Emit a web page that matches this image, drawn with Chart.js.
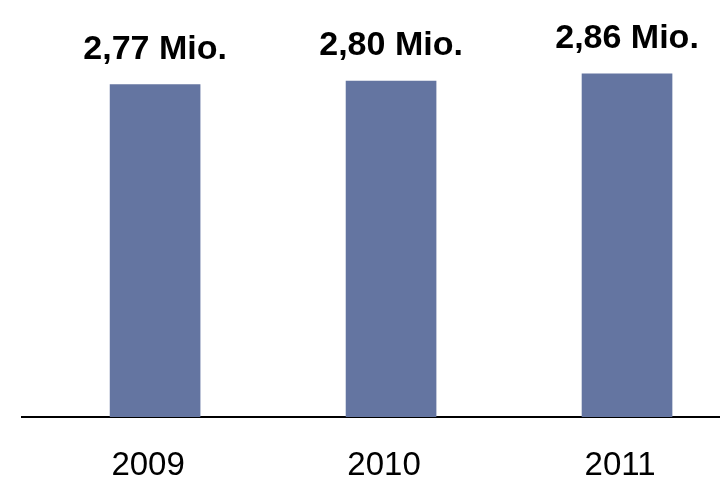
<!DOCTYPE html>
<html>
<head>
<meta charset="utf-8">
<script src="https://cdn.jsdelivr.net/npm/chart.js@4"></script>
<style>
  html, body { margin: 0; padding: 0; background: #fff; overflow: hidden; }
</style>
</head>
<body>
<canvas id="chart" width="720" height="481"></canvas>
<script>
const years = [2009, 2010, 2011];
const values = [2.77, 2.80, 2.86];   // Mio.

// value labels above each bar, e.g. "2,77 Mio."
const valueLabels = {
  id: 'valueLabels',
  afterDatasetsDraw(chart) {
    const ctx = chart.ctx;
    const meta = chart.getDatasetMeta(0);
    ctx.save();
    ctx.font = 'bold 34px "Liberation Sans", Arial, sans-serif';
    ctx.fillStyle = '#000';
    ctx.textAlign = 'center';
    ctx.textBaseline = 'alphabetic';
    meta.data.forEach((bar, i) => {
      const txt = values[i].toFixed(2).replace('.', ',') + ' Mio.';
      ctx.fillText(txt, bar.x, bar.y - 26);
    });
    ctx.restore();
  }
};

new Chart(document.getElementById('chart'), {
  type: 'bar',
  data: {
    datasets: [{
      data: years.map((y, i) => ({ x: y, y: values[i] })),
      backgroundColor: '#6475a1',
      barThickness: 90
    }]
  },
  options: {
    responsive: false,
    animation: false,
    layout: { padding: { left: 22, right: 0, top: 0, bottom: 0 } },
    plugins: { legend: { display: false }, tooltip: { enabled: false } },
    scales: {
      x: {
        type: 'linear',
        offset: false,
        min: 2008.436,
        max: 2011.394,
        afterBuildTicks: s => { s.ticks = years.map(v => ({ value: v })); },
        afterFit: s => { s.height = 64; },
        grid: { display: false },
        border: { display: true, color: '#000', width: 2 },
        ticks: {
          callback: v => String(v),
          color: '#000',
          padding: 24,
          labelOffset: -7,
          font: { family: '"Liberation Sans", Arial, sans-serif', size: 33, lineHeight: 1.0 }
        }
      },
      y: {
        display: false,
        min: 0,
        max: 3.475
      }
    }
  },
  plugins: [valueLabels]
});
</script>
</body>
</html>
